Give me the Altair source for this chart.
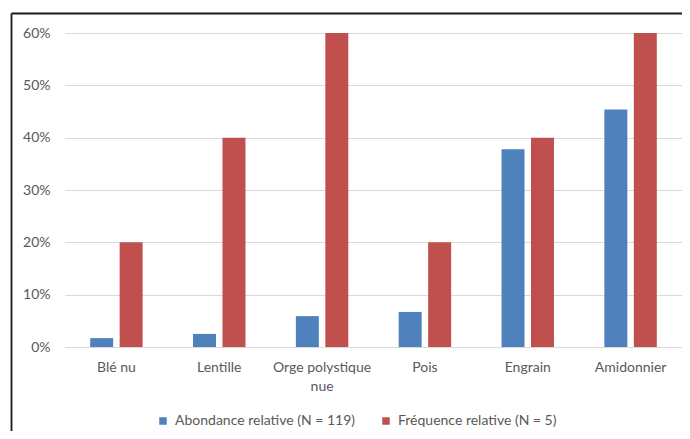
import altair as alt
import pandas as pd

categories = ["Blé nu", "Lentille", "Orge polystique nue", "Pois", "Engrain", "Amidonnier"]
series = ["Abondance relative (N = 119)", "Fréquence relative (N = 5)"]
abondance = [0.017, 0.025, 0.059, 0.067, 0.378, 0.454]
frequence = [0.20, 0.40, 0.60, 0.20, 0.40, 0.60]
y_ticks = [0.0, 0.1, 0.2, 0.3, 0.4, 0.5, 0.6]
colors = ["#4f81bd", "#c0504d"]

rows = []
for c, a, f in zip(categories, abondance, frequence):
    rows.append({"cat": c, "serie": series[0], "val": a})
    rows.append({"cat": c, "serie": series[1], "val": f})
df = pd.DataFrame(rows)

FONT = "Lato"
GREY = "#595959"
FS = 14

bars = alt.Chart(df).mark_bar().encode(
    x=alt.X("cat:N", sort=categories, title=None,
            scale=alt.Scale(paddingInner=0.49, paddingOuter=0.245),
            axis=alt.Axis(labelAngle=0, ticks=False, domainColor="#d9d9d9",
                          labelPadding=13, labelLineHeight=19,
                          labelExpr="datum.label == 'Orge polystique nue' ? ['Orge polystique', 'nue'] : datum.label")),
    xOffset=alt.XOffset("serie:N", sort=series,
                        scale=alt.Scale(paddingInner=0.22, paddingOuter=0)),
    y=alt.Y("val:Q", title=None,
            scale=alt.Scale(domain=[0, 0.6], nice=False),
            axis=alt.Axis(values=y_ticks, format=".0%", ticks=False, domain=False,
                          labelPadding=15, gridColor="#d9d9d9")),
    color=alt.Color("serie:N", sort=series,
                    scale=alt.Scale(domain=series, range=colors),
                    legend=alt.Legend(title=None, orient="none", direction="horizontal",
                                      legendX=91, legendY=381, padding=0, symbolType="square",
                                      symbolSize=56, symbolStrokeWidth=0,
                                      labelOffset=5, columnPadding=24, labelLimit=400)),
)

frame_df = pd.DataFrame({"k": [0]})
frame_top = alt.Chart(frame_df).mark_rule(color="#1a1a1a", strokeWidth=1.8).encode(
    x=alt.value(-53.5), x2=alt.value(700), y=alt.value(-19.5))
frame_left = alt.Chart(frame_df).mark_rule(color="#1a1a1a", strokeWidth=1.8).encode(
    x=alt.value(-53.5), y=alt.value(-19.5), y2=alt.value(500))

chart = alt.layer(bars, frame_top, frame_left).properties(
    width=617, height=314,
    autosize=alt.AutoSizeParams(type="none"),
    padding={"left": 57, "top": 25, "right": 0, "bottom": 84},
).configure_view(stroke=None).configure_axis(
    labelFont=FONT, labelFontSize=FS, labelColor=GREY,
).configure_legend(
    labelFont=FONT, labelFontSize=FS, labelColor=GREY,
)

chart.save("out.html", embed_options={"renderer": "svg", "actions": False})
